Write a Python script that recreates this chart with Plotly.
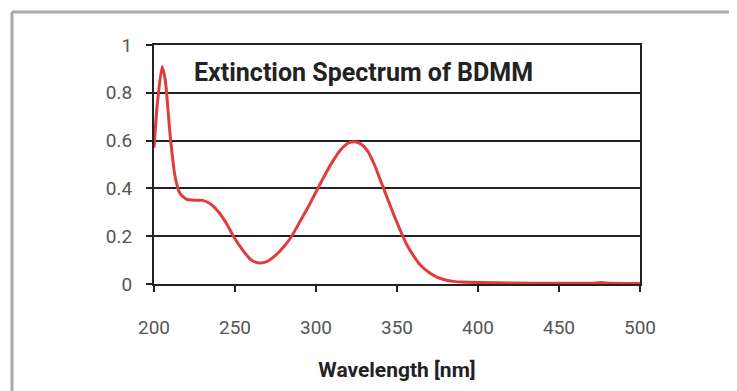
import plotly.graph_objects as go

wavelength = [200, 202, 205, 207, 210, 213, 216, 220, 225, 230, 235, 240, 245, 249, 255, 260, 265,
              270, 275, 280, 285, 290, 295, 300, 305, 310, 315, 320, 324, 328, 332, 336, 340, 344,
              348, 352, 356, 360, 365, 370, 375, 380, 385, 390, 400, 420, 450, 470, 476, 482, 500]
extinction = [0.57, 0.75, 0.91, 0.85, 0.62, 0.45, 0.38, 0.355, 0.35, 0.35, 0.335, 0.30, 0.25, 0.20,
              0.14, 0.10, 0.088, 0.095, 0.12, 0.155, 0.20, 0.26, 0.32, 0.385, 0.45, 0.51, 0.56, 0.59,
              0.595, 0.585, 0.555, 0.50, 0.43, 0.36, 0.29, 0.225, 0.165, 0.12, 0.075, 0.047, 0.028,
              0.017, 0.011, 0.008, 0.006, 0.004, 0.003, 0.003, 0.006, 0.003, 0.002]

x_ticks = [200, 250, 300, 350, 400, 450, 500]
y_ticks = [0, 0.2, 0.4, 0.6, 0.8, 1]
y_tick_labels = ["0", "0.2", "0.4", "0.6", "0.8", "1"]

title_text = "Extinction Spectrum of BDMM"
x_title = "Wavelength [nm]"

font_family = "Roboto, sans-serif"

fig = go.Figure()
fig.add_trace(go.Scatter(x=wavelength, y=extinction, mode="lines",
                         line=dict(color="#e03c3c", width=3, shape="spline", smoothing=0.6),
                         showlegend=False, hoverinfo="skip"))

# page body has an 8px margin, so margins are offset accordingly
fig.update_layout(
    width=737, height=391,
    margin=dict(l=146, r=105, t=37, b=115),
    paper_bgcolor="white", plot_bgcolor="white",
    font=dict(family=font_family, color="#333"),
    shapes=[
        dict(type="line", xref="paper", yref="paper", x0=-0.2922, x1=1.3, y0=1.138, y1=1.138,
             line=dict(color="#aaaaaa", width=3)),
        dict(type="line", xref="paper", yref="paper", x0=-0.2922, x1=-0.2922, y0=1.138, y1=-0.6,
             line=dict(color="#aaaaaa", width=3)),
    ],
    annotations=[
        dict(text="<b>" + title_text + "</b>", xref="x", yref="y", x=223.5, y=0.883,
             xanchor="left", yanchor="middle", showarrow=False,
             font=dict(family=font_family, size=25, color="#222")),
    ],
)

fig.update_xaxes(
    range=[200, 500], tickvals=x_ticks, ticks="outside", ticklen=6, tickwidth=1.5, tickcolor="#222",
    showline=True, linecolor="#222", linewidth=2, mirror=True, showgrid=False, zeroline=False,
    tickfont=dict(family=font_family, size=19, color="#555"), ticklabelstandoff=19,
    title=dict(text="<b>" + x_title + "</b>", font=dict(family=font_family, size=21, color="#222"), standoff=25),
)
fig.update_yaxes(
    range=[0, 1], tickvals=y_ticks, ticktext=y_tick_labels, ticks="outside", ticklen=6, tickwidth=1.5,
    tickcolor="#222", showline=True, linecolor="#222", linewidth=2, mirror=True,
    showgrid=True, gridcolor="#222", gridwidth=2, zeroline=False,
    tickfont=dict(family=font_family, size=19, color="#555"), ticklabelstandoff=10,
)

fig.write_html("out.html")
